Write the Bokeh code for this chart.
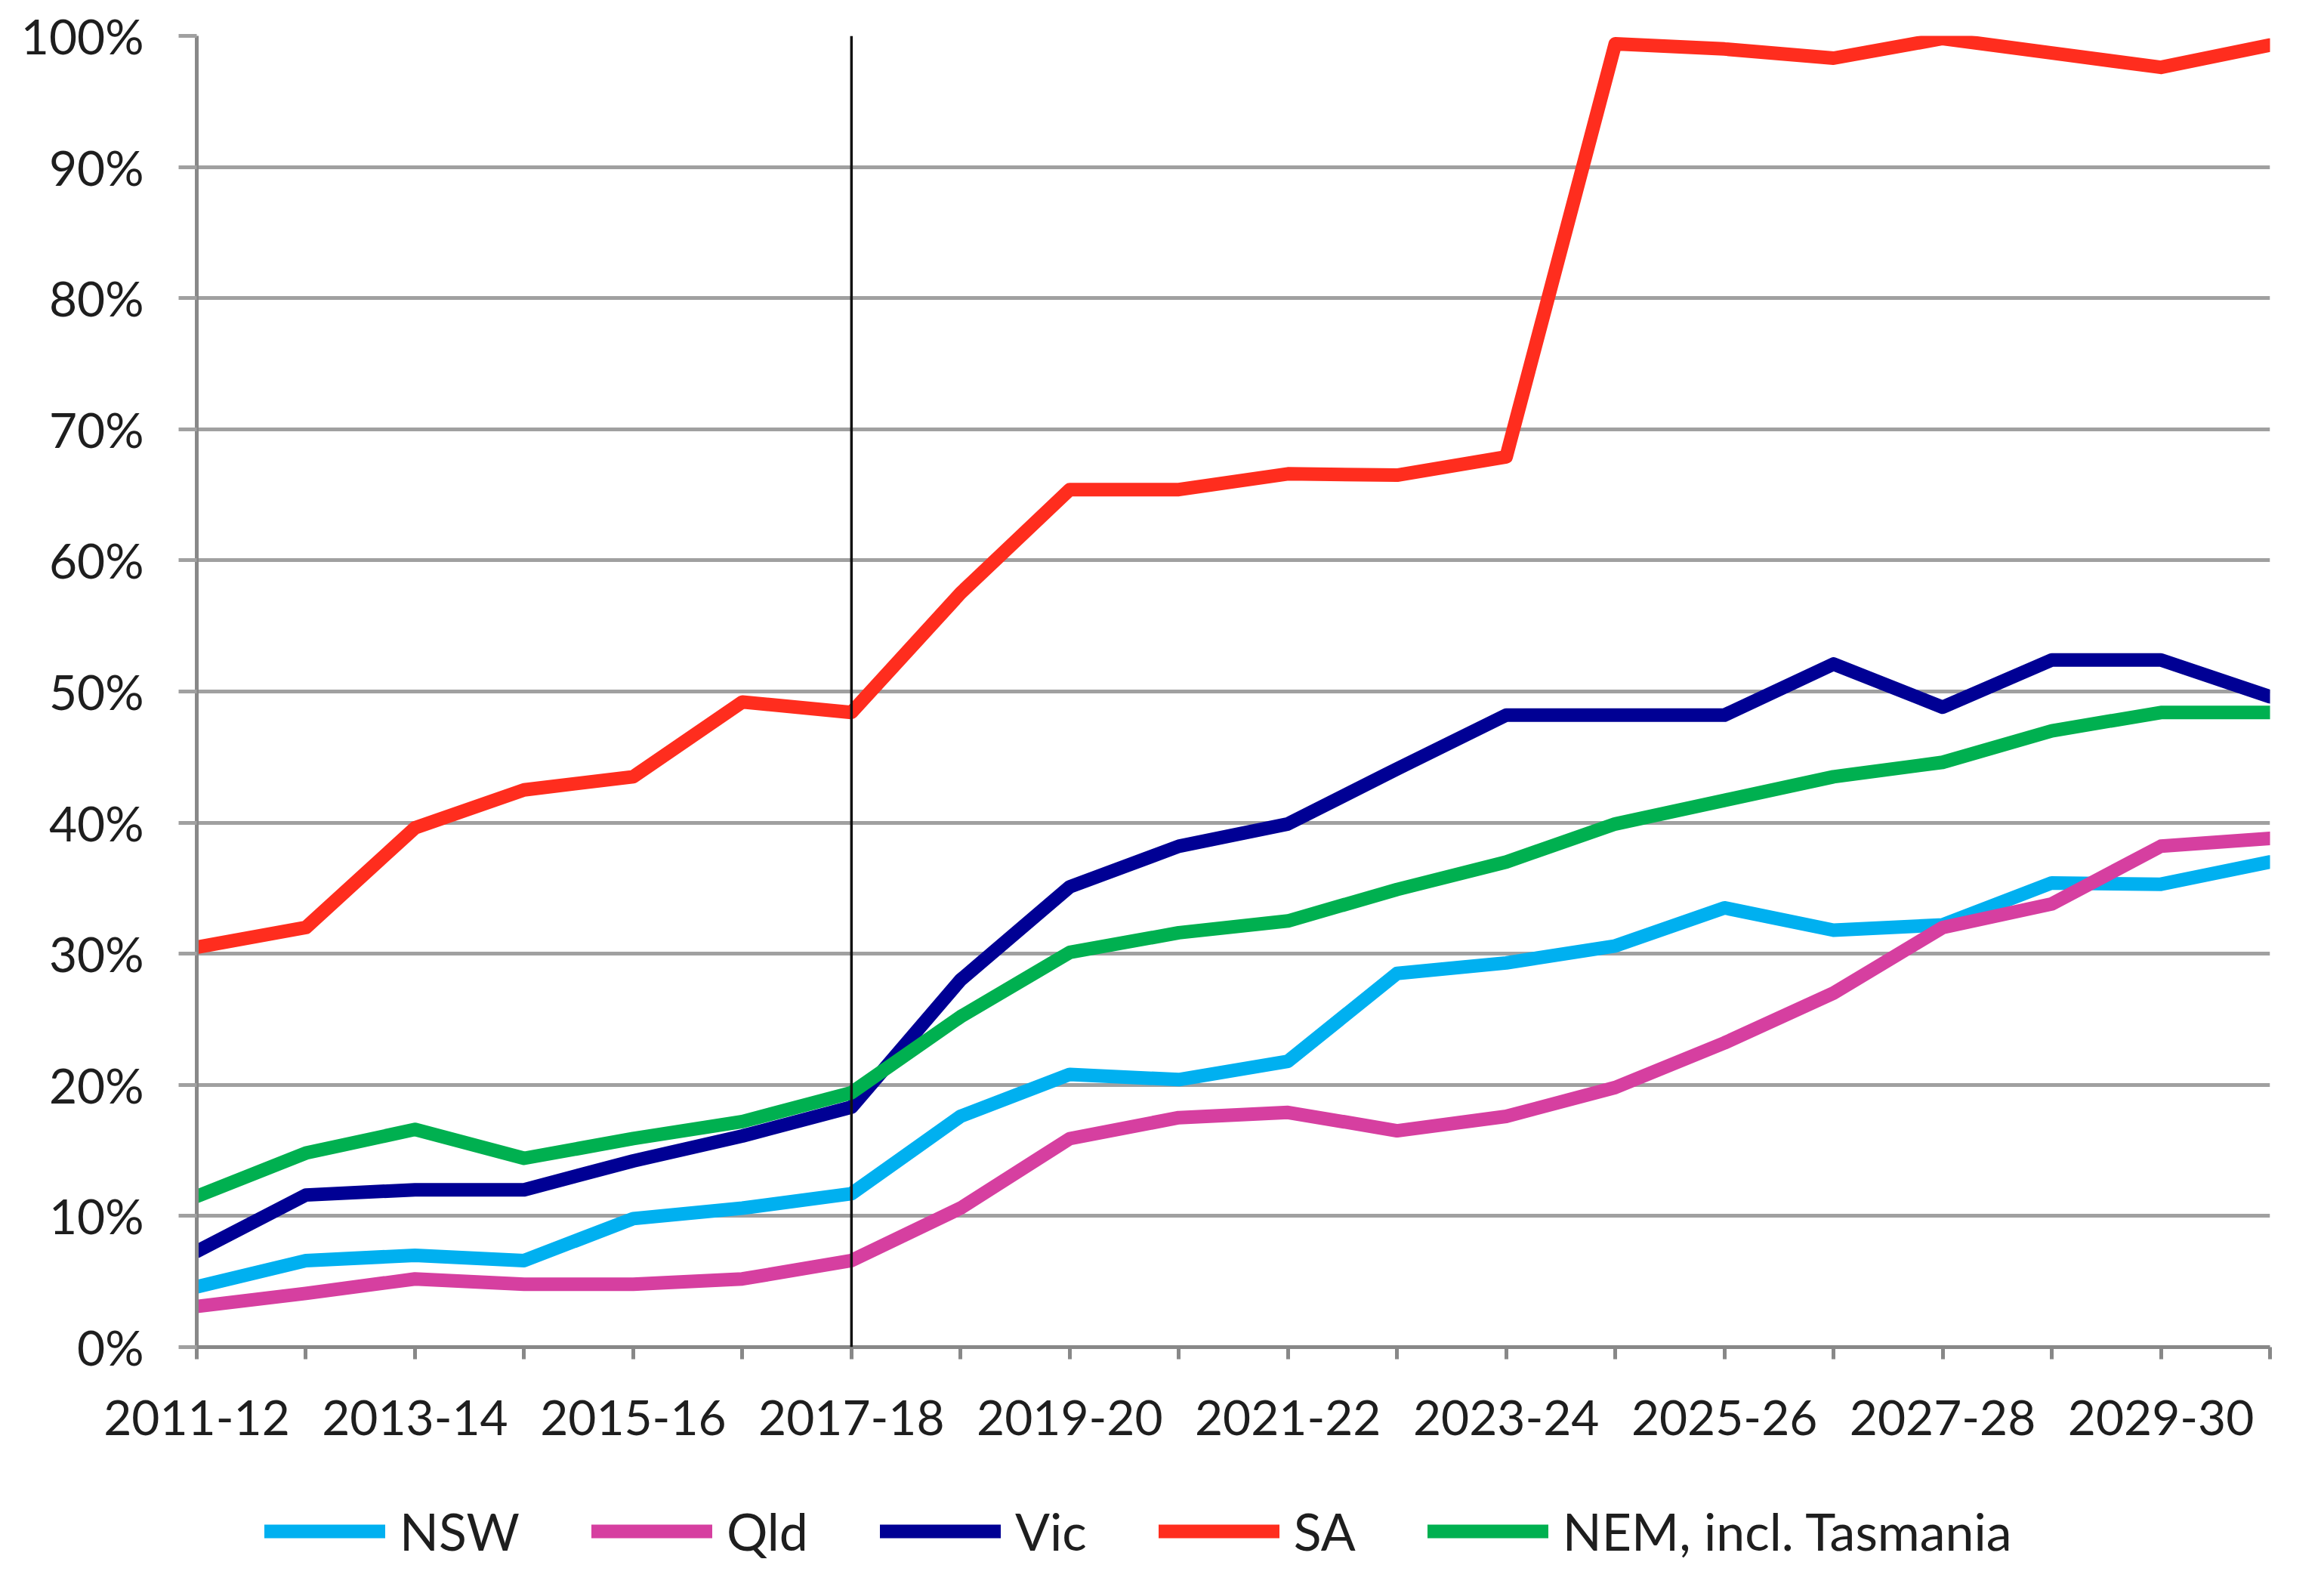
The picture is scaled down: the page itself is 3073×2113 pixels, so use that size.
from bokeh.plotting import figure
from bokeh.layouts import column
from bokeh.models import FixedTicker, Range1d, Span, Legend, LegendItem, PrintfTickFormatter
from bokeh.embed import file_html
from bokeh.resources import INLINE

periods = ["2011-12", "2012-13", "2013-14", "2014-15", "2015-16", "2016-17", "2017-18",
           "2018-19", "2019-20", "2020-21", "2021-22", "2022-23", "2023-24", "2024-25",
           "2025-26", "2026-27", "2027-28", "2028-29", "2029-30", "2030-31"]
tick_labels = ["2011-12", "2013-14", "2015-16", "2017-18", "2019-20", "2021-22",
               "2023-24", "2025-26", "2027-28", "2029-30"]
y_ticks = [0, 10, 20, 30, 40, 50, 60, 70, 80, 90, 100]
divider_period = "2017-18"

nsw = [4.6, 6.6, 7.0, 6.6, 9.8, 10.6, 11.7, 17.6, 20.8, 20.4, 21.8, 28.5, 29.3, 30.6,
       33.5, 31.8, 32.2, 35.4, 35.3, 37.0]
qld = [3.1, 4.1, 5.2, 4.8, 4.8, 5.2, 6.6, 10.6, 15.9, 17.5, 17.9, 16.5, 17.6, 19.8,
       23.2, 27.0, 32.0, 33.8, 38.2, 38.8]
vic = [7.3, 11.6, 12.0, 12.0, 14.2, 16.1, 18.3, 28.0, 35.1, 38.2, 39.9, 44.1, 48.2, 48.2,
       48.2, 52.1, 48.8, 52.4, 52.4, 49.6]
sa = [30.5, 32.0, 39.6, 42.5, 43.5, 49.2, 48.4, 57.5, 65.4, 65.4, 66.6, 66.5, 67.9, 99.4,
      99.0, 98.3, 99.8, 98.7, 97.6, 99.3]
nem = [11.5, 14.8, 16.6, 14.4, 15.9, 17.2, 19.4, 25.2, 30.1, 31.6, 32.5, 34.9, 37.0, 39.9,
       41.7, 43.5, 44.6, 47.0, 48.4, 48.4]

series = [
    ("NSW", nsw, "#00b0f0"),
    ("Qld", qld, "#d63fa0"),
    ("Vic", vic, "#000094"),
    ("SA", sa, "#ff2d1e"),
    ("NEM, incl. Tasmania", nem, "#00b050"),
]

FONT = "Lato"
FS = "64px"
TXT = "#1e1e1e"
GRID = "#a0a0a0"
AXIS = "#888888"
LW = 18

x = list(range(len(periods)))

p = figure(frame_width=2745, frame_height=1736, output_backend="svg", toolbar_location=None,
           x_range=Range1d(0, len(periods) - 1), y_range=Range1d(0, 100))
p.min_border_left = 260
p.min_border_right = 52
p.min_border_top = 47
p.min_border_bottom = 160
p.outline_line_color = None
p.background_fill_color = "white"
p.border_fill_color = "white"

p.xgrid.visible = False
p.ygrid.ticker = FixedTicker(ticks=y_ticks)
p.ygrid.grid_line_color = GRID
p.ygrid.grid_line_width = 5

# y axis
p.yaxis.ticker = FixedTicker(ticks=y_ticks)
p.yaxis.formatter = PrintfTickFormatter(format="%d%%")
p.yaxis.axis_line_color = AXIS
p.yaxis.axis_line_width = 5
p.yaxis.major_tick_line_color = GRID
p.yaxis.major_tick_line_width = 5
p.yaxis.major_tick_out = 24
p.yaxis.major_tick_in = 0
p.yaxis.minor_tick_line_color = None
p.yaxis.major_label_standoff = 46
p.yaxis.major_label_text_font = FONT
p.yaxis.major_label_text_font_size = FS
p.yaxis.major_label_text_color = TXT

# x axis
p.xaxis.ticker = FixedTicker(ticks=x)
p.xaxis.major_label_overrides = {i: (lab if lab in tick_labels else "") for i, lab in enumerate(periods)}
p.xaxis.axis_line_color = AXIS
p.xaxis.axis_line_width = 5
p.xaxis.major_tick_line_color = AXIS
p.xaxis.major_tick_line_width = 5
p.xaxis.major_tick_out = 16
p.xaxis.major_tick_in = 0
p.xaxis.minor_tick_line_color = None
p.xaxis.major_label_standoff = 54
p.xaxis.major_label_text_font = FONT
p.xaxis.major_label_text_font_size = FS
p.xaxis.major_label_text_color = TXT

# divider
p.add_layout(Span(location=periods.index(divider_period), dimension="height",
                  line_color="#111111", line_width=3.5))

for name, vals, color in series:
    p.line(x, vals, line_color=color, line_width=LW, line_join="round", line_cap="round")

# legend strip below the chart (its own ranges keep the series out of view;
# only the legend entries are visible)
lg = figure(width=3057, height=154, output_backend="svg", toolbar_location=None,
            x_range=Range1d(-10, -9), y_range=Range1d(-10, -9),
            x_axis_location=None, y_axis_location=None)
lg.min_border = 0
lg.grid.visible = False
lg.outline_line_color = None
lg.background_fill_color = "white"
lg.border_fill_color = "white"

items = []
for name, vals, color in series:
    r = lg.line(x, vals, line_color=color, line_width=LW, line_cap="round")
    items.append(LegendItem(label=name, renderers=[r]))

legend = Legend(items=items, orientation="horizontal", location=(90, 30),
                glyph_width=160, glyph_height=20, label_standoff=19, spacing=95,
                padding=0, margin=0, border_line_alpha=0, background_fill_alpha=0,
                label_text_font=FONT, label_text_font_size="68px", label_text_color=TXT,
                label_text_baseline="middle")
lg.add_layout(legend, "center")

layout = column(p, lg, spacing=0)
open("out.html", "w").write(file_html(layout, INLINE))
